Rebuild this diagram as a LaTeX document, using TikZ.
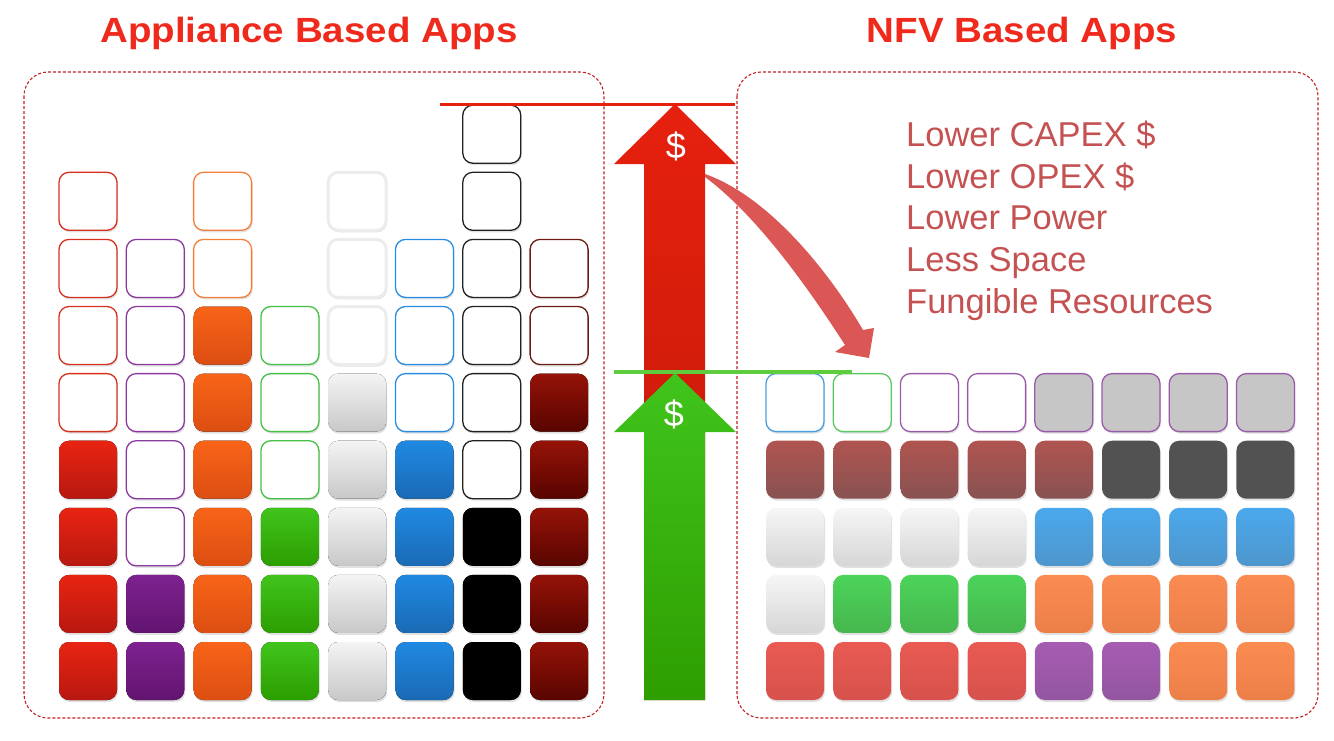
\documentclass[tikz,border=0pt]{standalone}
\usepackage{fontspec}
\setmainfont{Liberation Sans}

\definecolor{rdA}{HTML}{E82412}\definecolor{rdB}{HTML}{B81810}\definecolor{rdL}{HTML}{D8301E}
\definecolor{puA}{HTML}{7E2290}\definecolor{puB}{HTML}{621470}\definecolor{puL}{HTML}{8A3A9E}
\definecolor{orA}{HTML}{F86418}\definecolor{orB}{HTML}{DC4E12}\definecolor{orL}{HTML}{F57E3A}
\definecolor{grA}{HTML}{40C41C}\definecolor{grB}{HTML}{2C9E00}\definecolor{grL}{HTML}{44C044}
\definecolor{ltA}{HTML}{F4F4F4}\definecolor{ltB}{HTML}{C8C8C8}\definecolor{ltL}{HTML}{ECECEC}
\definecolor{blA}{HTML}{2089E2}\definecolor{blB}{HTML}{1A6AB4}\definecolor{blL}{HTML}{2A8CE0}
\definecolor{bkA}{HTML}{000000}\definecolor{bkB}{HTML}{000000}\definecolor{bkL}{HTML}{222222}
\definecolor{drA}{HTML}{951308}\definecolor{drB}{HTML}{580400}\definecolor{drL}{HTML}{6C1C14}
\definecolor{vRa}{HTML}{E95A52}\definecolor{vRb}{HTML}{D6524C}
\definecolor{vPa}{HTML}{A55CB2}\definecolor{vPb}{HTML}{9456A0}
\definecolor{vOa}{HTML}{FA8C52}\definecolor{vOb}{HTML}{EC7E48}
\definecolor{vLa}{HTML}{F6F6F6}\definecolor{vLb}{HTML}{D6D6D6}
\definecolor{vGa}{HTML}{4CD45A}\definecolor{vGb}{HTML}{46B64E}
\definecolor{vBa}{HTML}{4AA8EC}\definecolor{vBb}{HTML}{4E96CC}
\definecolor{vBra}{HTML}{B05450}\definecolor{vBrb}{HTML}{885252}
\definecolor{vDk}{HTML}{525252}
\definecolor{vGyf}{HTML}{C6C6C6}
\definecolor{vEbL}{HTML}{4A9EDE}\definecolor{vEgL}{HTML}{5CC862}\definecolor{vEpL}{HTML}{9A5AAA}
\definecolor{arA}{HTML}{E6200E}\definecolor{arB}{HTML}{BE1808}
\definecolor{gnA}{HTML}{40C41C}\definecolor{gnB}{HTML}{2E9E00}
\definecolor{panelred}{HTML}{C0201F}
\definecolor{titlered}{HTML}{EF2A1C}
\definecolor{gainred}{HTML}{C55252}
\definecolor{curvyred}{HTML}{DB5755}

\begin{document}
\begin{tikzpicture}[x=1pt,y=-1pt,
	cell/.style={rounded corners=10pt},
	full/.style 2 args={cell,top color=#1,bottom color=#2},
	hollow/.style={cell,draw=#1,fill=white,line width=1.3pt},
	cellshadow/.style={cell,fill=black,opacity=0.12},
	panel/.style={draw=panelred,line width=1.1pt,dash pattern=on 3pt off 2pt,rounded corners=24pt},
	title/.style={anchor=base,text=titlered,font=\fontsize{35}{40}\selectfont\bfseries},
	gain/.style={anchor=base west,inner sep=0pt,text=gainred,font=\fontsize{34.5}{40}\selectfont},
	dollar/.style={text=white,font=\fontsize{36}{40}\selectfont},
	vR/.style={full={vRa}{vRb}}, vP/.style={full={vPa}{vPb}}, vO/.style={full={vOa}{vOb}},
	vL/.style={full={vLa}{vLb}}, vG/.style={full={vGa}{vGb}}, vB/.style={full={vBa}{vBb}},
	vBr/.style={full={vBra}{vBrb}}, vD/.style={cell,fill=vDk},
	vGy/.style={cell,fill=vGyf,draw=vEpL,line width=1.3pt},
	vEb/.style={hollow=vEbL}, vEg/.style={hollow=vEgL}, vEp/.style={hollow=vEpL}]
	\useasboundingbox (0,0) rectangle (1334,740);
	
	\draw[panel] (24,72) rectangle (604,718);
	\draw[panel] (737,72) rectangle (1318,718);
	\node[title] (appl) at (309,42) {\scalebox{1.1}[1]{Appliance Based Apps}};
	\node[title] (nfv) at (1022,42) {\scalebox{1.1}[1]{NFV Based Apps}};
	
	\foreach \c/\nf/\nt/\hi/\lo/\ln/\lw in {1/4/8/rdA/rdB/rdL/1.3, 2/2/7/puA/puB/puL/1.3, 3/6/8/orA/orB/orL/1.3, 4/3/6/grA/grB/grL/1.3, 5/5/8/ltA/ltB/ltL/3, 6/4/7/blA/blB/blL/1.3, 7/3/9/bkA/bkB/bkL/1.3, 8/5/7/drA/drB/drL/1.3}
	\foreach \r in {1,...,\nt}{
		\pgfmathsetmacro\cx{59+67.3*(\c-1)}
		\pgfmathsetmacro\cy{642-67.1*(\r-1)}
		\fill[cellshadow] (\cx+1,\cy+2) rectangle ++(58,58);
		\ifnum\r>\nf
		\draw[hollow=\ln,line width=\lw pt] (\cx,\cy) rectangle ++(58,58);
		\else
		\fill[full={\hi}{\lo}] (\cx,\cy) rectangle ++(58,58);
		\fi
	}
	
	\foreach \r/\lst in {1/{vR,vR,vR,vR,vP,vP,vO,vO}, 2/{vL,vG,vG,vG,vO,vO,vO,vO}, 3/{vL,vL,vL,vL,vB,vB,vB,vB}, 4/{vBr,vBr,vBr,vBr,vBr,vD,vD,vD}, 5/{vEb,vEg,vEp,vEp,vGy,vGy,vGy,vGy}}
	\foreach \k [count=\c] in \lst {
		\pgfmathsetmacro\cx{766+67.2*(\c-1)}
		\pgfmathsetmacro\cy{642-67.1*(\r-1)}
		\fill[cellshadow] (\cx+1,\cy+2) rectangle ++(58,58);
		\path[\k] (\cx,\cy) rectangle ++(58,58);
	}
	
	\shade[top color=arA, bottom color=arB] (644,700) -- (644,164) -- (614,164) -- (675,104) -- (736,164) -- (705,164) -- (705,700) -- cycle;
	\shade[top color=gnA, bottom color=gnB] (644,700) -- (644,432) -- (614,432) -- (675,373) -- (736,432) -- (705,432) -- (705,700) -- cycle;
	\draw[arA, line width=3pt] (440,104) -- (735,104);
	\draw[gnA!85!white, line width=3.5pt] (614,372) -- (852,372);
	\fill[curvyred] (705,174) .. controls (765,195) and (825,265) .. (863,330) -- (874,328) -- (869,358) -- (835,352) -- (845,345) .. controls (800,275) and (752,212) .. (705,177) -- cycle;
	\node[dollar] (dred) at (676,146) {\$};
	\node[dollar] (dgreen) at (674,414) {\$};
	
	\foreach \t [count=\i] in {Lower CAPEX \$, Lower OPEX \$, Lower Power, Less Space, Fungible Resources}
	\node[gain] (gain\i) at (906,146.7+41.6*\i-41.6) {\t};
\end{tikzpicture}
\end{document}
